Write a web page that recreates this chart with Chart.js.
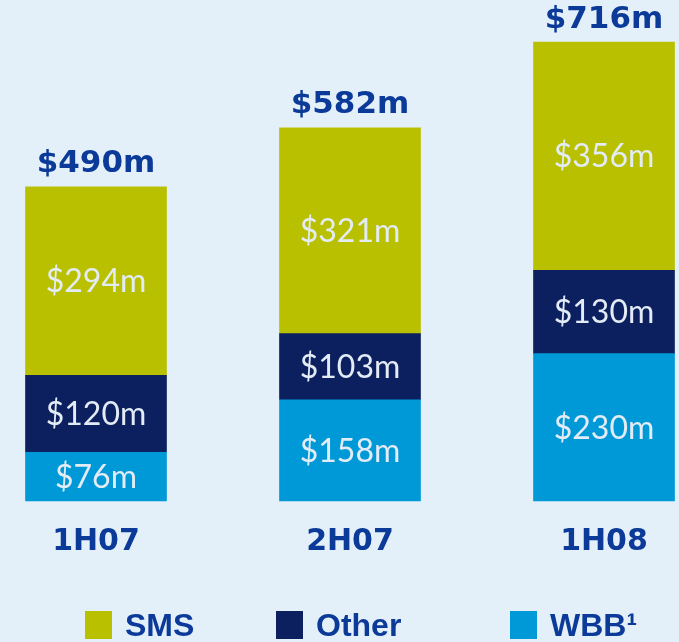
<!DOCTYPE html>
<html>
<head>
<meta charset="utf-8">
<script src="https://cdn.jsdelivr.net/npm/chart.js@4.4.1/dist/chart.umd.min.js"></script>
<style>
  html, body { margin: 0; padding: 0; background: #e3f0f9; }
  canvas { display: block; }
</style>
</head>
<body>
<canvas id="chart" width="679" height="642"></canvas>
<script>
const periods = ['1H07', '2H07', '1H08']
const wbb = [76, 158, 230]
const other = [120, 103, 130]
const sms = [294, 321, 356]

const textBlue = '#0b3a99'

// values inside each segment + totals on top
const labelPlugin = {
    id: 'segLabels',
    afterDatasetsDraw(chart) {
        const ctx = chart.ctx
        ctx.save()
        ctx.textAlign = 'center'
        ctx.textBaseline = 'middle'
        ctx.font = '400 32px Lato'
        ctx.fillStyle = '#e3ebf5'
        chart.data.datasets.forEach((ds, i) => {
            const meta = chart.getDatasetMeta(i)
            meta.data.forEach((bar, j) => {
                ctx.fillText('$' + ds.data[j] + 'm', bar.x, (bar.y + bar.base) / 2 + 1)
            })
        })
        const last = chart.data.datasets.length - 1
        const topMeta = chart.getDatasetMeta(last)
        ctx.font = 'bold 31px "DejaVu Sans"'
        ctx.fillStyle = textBlue
        ctx.textBaseline = 'bottom'
        topMeta.data.forEach((bar, j) => {
            let total = 0
            chart.data.datasets.forEach(ds => { total += ds.data[j] })
            ctx.fillText('$' + total + 'm', bar.x, bar.y - 7)
        })
        ctx.restore()
    }
}

// legend drawn by hand so items can sit apart like the original
const legendPlugin = {
    id: 'bottomLegend',
    afterDraw(chart) {
        const ctx = chart.ctx
        const xs = [85, 276, 510]
        const items = [
            { text: 'SMS', color: '#b9c000' },
            { text: 'Other', color: '#0c2060' },
            { text: 'WBB\u00b9', color: '#0099d8' }
        ]
        ctx.save()
        ctx.font = 'bold 32px "Liberation Sans"'
        ctx.textBaseline = 'middle'
        ctx.textAlign = 'left'
        items.forEach((it, i) => {
            ctx.fillStyle = it.color
            ctx.fillRect(xs[i], 611, 27, 28)
            ctx.fillStyle = textBlue
            ctx.fillText(it.text, xs[i] + 40, 627)
        })
        ctx.restore()
    }
}

new Chart(document.getElementById('chart'), {
    type: 'bar',
    data: {
        labels: periods,
        datasets: [
            { label: 'WBB', data: wbb, backgroundColor: '#0099d8' },
            { label: 'Other', data: other, backgroundColor: '#0c2060' },
            { label: 'SMS', data: sms, backgroundColor: '#b9c000' }
        ]
    },
    options: {
        responsive: false,
        animation: false,
        layout: { padding: { left: 96, right: 75, top: 42, bottom: 67 } },
        datasets: { bar: { barThickness: 141, clip: false, borderWidth: 0 } },
        plugins: {
            legend: { display: false },
            tooltip: { enabled: false }
        },
        scales: {
            x: {
                stacked: true,
                offset: false,
                grid: { display: false },
                border: { display: false },
                ticks: {
                    color: textBlue,
                    font: { family: 'DejaVu Sans', weight: 'bold', size: 30 },
                    padding: 15
                }
            },
            y: {
                stacked: true,
                display: false,
                min: 0,
                max: 716
            }
        }
    },
    plugins: [labelPlugin, legendPlugin]
})
</script>
</body>
</html>
